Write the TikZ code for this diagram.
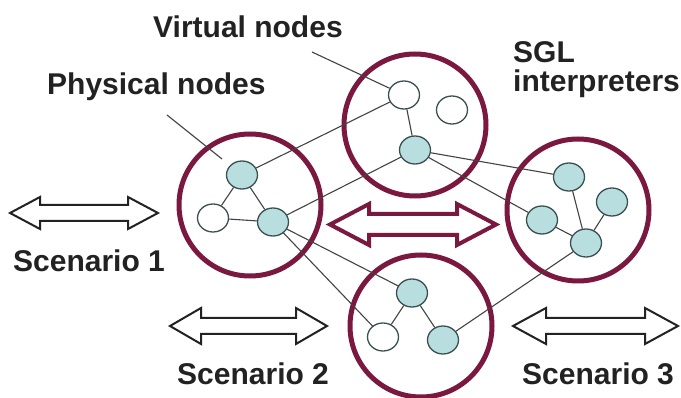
\documentclass[tikz,border=0pt]{standalone}
\usepackage{fontspec}
\setmainfont{Liberation Sans}
\usepackage{tikz}
\usetikzlibrary{shapes.geometric}
\definecolor{ring}{HTML}{7B1840}
\definecolor{phys}{HTML}{B9DEE0}
\definecolor{edge}{HTML}{3A4F50}
\definecolor{ink}{HTML}{222222}
% #1 style, #2 left x, #3 right x, #4 mid y, #5 half shaft, #6 half head, #7 head length
\newcommand{\twoway}[7]{%
  \draw[#1] (#2,#4) -- ({#2+#7},{#4-#6}) -- ({#2+#7},{#4-#5}) -- ({#3-#7},{#4-#5})
    -- ({#3-#7},{#4-#6}) -- (#3,#4) -- ({#3-#7},{#4+#6}) -- ({#3-#7},{#4+#5})
    -- ({#2+#7},{#4+#5}) -- ({#2+#7},{#4+#6}) -- cycle;}

\begin{document}
\begin{tikzpicture}[
  x=1pt,y=-1pt,
  zone/.style={circle,draw=ring,line width=5pt,minimum size=142pt,inner sep=0pt},
  pnode/.style={ellipse,draw=edge,fill=phys,line width=1.3pt,
                minimum width=31pt,minimum height=28pt,inner sep=0pt},
  vnode/.style={pnode,fill=white},
  ln/.style={draw=ink!85,line width=1.1pt},
  lbl/.style={font=\fontsize{30}{29}\selectfont\bfseries,text=ink,
              inner sep=0pt,anchor=base west},
  wide/.style={draw=ink,line width=2pt,fill=white,line join=miter},
  mid/.style={wide,draw=ring,line width=4pt}
]
\useasboundingbox (0,0) rectangle (681,398);

\node[zone] (zl) at (250,205) {};
\node[zone] (zt) at (415,125) {};
\node[zone] (zr) at (578,210) {};
\node[zone] (zb) at (421,326) {};

\node[pnode] (lp1) at (242,175) {};
\node[vnode] (lv1) at (213,218) {};
\node[pnode] (lp2) at (273,222) {};
\node[vnode] (tv1) at (404,95) {};
\node[vnode] (tv2) at (452,110) {};
\node[pnode] (tp1) at (415,150) {};
\node[pnode] (rp1) at (569,177) {};
\node[pnode] (rp2) at (542,220) {};
\node[pnode] (rp3) at (612,202) {};
\node[pnode] (rp4) at (586,243) {};
\node[pnode] (bp1) at (412,293) {};
\node[vnode] (bv1) at (383,337) {};
\node[pnode] (bp2) at (443,340) {};

\draw[ln] (lp1)--(lv1); \draw[ln] (lv1)--(lp2); \draw[ln] (lp1)--(lp2);
\draw[ln] (lp1)--(tv1); \draw[ln] (lp2)--(tp1);
\draw[ln] (lp2)--(bp1); \draw[ln] (lp2)--(bv1);
\draw[ln] (tv1)--(tp1);
\draw[ln] (tp1)--(rp1); \draw[ln] (tp1)--(rp2);
\draw[ln] (rp1)--(rp4); \draw[ln] (rp2)--(rp4); \draw[ln] (rp3)--(rp4);
\draw[ln] (rp4)--(bp2);
\draw[ln] (bp1)--(bv1); \draw[ln] (bp1)--(bp2);

\node[lbl] (virt) at (153,38) {Virtual nodes};
\node[lbl] (phy) at (47,95) {Physical nodes};
\node[lbl,align=left,anchor=north west] (sgl) at (513,41) {SGL\\interpreters};
\node[lbl] (sc1) at (13,272) {Scenario 1};
\node[lbl] (sc2) at (177,385) {Scenario 2};
\node[lbl] (sc3) at (522,385) {Scenario 3};

\coordinate (vptr) at (312,52);
\coordinate (pptr) at (167,115);
\draw[ln] (vptr)--(tv1);
\draw[ln,shorten >=10pt] (pptr)--(lp1);

\twoway{wide}{10}{158}{213}{8}{16}{30}
\twoway{wide}{170}{327}{326}{8}{18}{31}
\twoway{wide}{513}{678}{326}{8}{18}{33}
\twoway{mid}{330}{496}{224.5}{10.5}{20.5}{39}
\end{tikzpicture}
\end{document}
